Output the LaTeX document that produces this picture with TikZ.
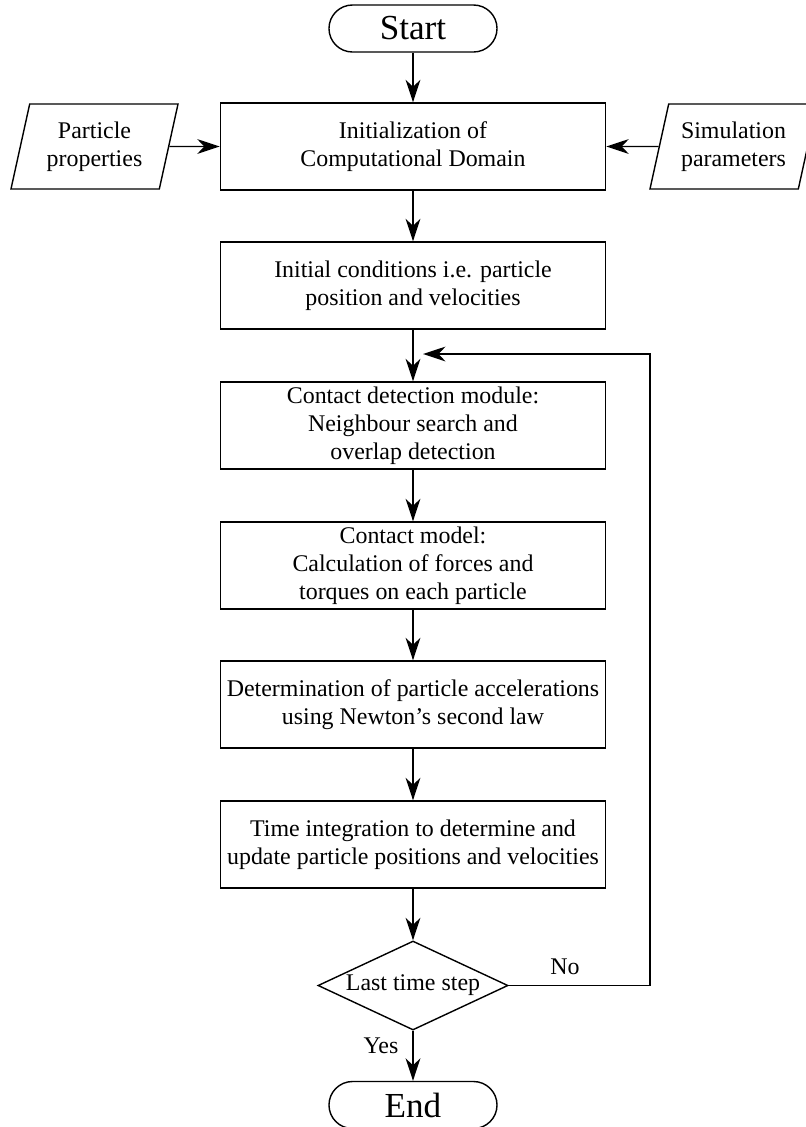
\documentclass[tikz,border=0pt]{standalone}
\usepackage{fontspec}
\setmainfont{Liberation Serif}
\usetikzlibrary{shapes.geometric,arrows.meta}

\begin{document}
\begin{tikzpicture}[x=0.025cm, y=-0.025cm, line width=1pt,
  >={Stealth[length=16pt,width=10.5pt,inset=5pt]},
  every node/.style={font=\fontsize{17}{20}\selectfont, align=center},
  process/.style={rectangle, draw, minimum width=9.625cm, minimum height=2.175cm, inner sep=0pt},
  terminal/.style={rectangle, draw, rounded corners=0.5875cm, minimum width=4.2cm, minimum height=1.175cm, inner sep=0pt, font=\fontsize{25}{28}\selectfont},
  io/.style={trapezium, trapezium left angle=69.4, trapezium right angle=110.6, trapezium stretches body, draw, minimum width=4.175cm, minimum height=2.125cm, inner sep=0pt},
  decision/.style={diamond, aspect=2.13, draw, minimum width=4.75cm, minimum height=2.225cm, inner sep=0pt},
  tag/.style={inner sep=0pt}]
  \useasboundingbox (0,0) rectangle (805,1127);
  \node[terminal] (start) at (413, 28.5) {Start};
  \node[process] (init) at (413, 146.5) {Initialization of\\Computational Domain};
  \node[io] (props) at (94.5, 146.5) {Particle\\properties};
  \node[io] (params) at (733.5, 146.5) {Simulation\\parameters};
  \node[process] (ic) at (413, 285.5) {Initial conditions i.e. particle\\position and velocities};
  \node[process] (detect) at (413, 425.5) {Contact detection module:\\Neighbour search and\\overlap detection};
  \node[process] (model) at (413, 565.5) {Contact model:\\Calculation of forces and\\torques on each particle};
  \node[process] (accel) at (413, 704.5) {Determination of particle accelerations\\using Newton's second law};
  \node[process] (integ) at (413, 844.5) {Time integration to determine and\\update particle positions and velocities};
  \node[decision] (last) at (413, 985.5) {Last time step};
  \node[terminal] (end) at (413, 1105) {End};
  \node[tag] (no) at (565, 967) {No};
  \node[tag] (yes) at (381, 1046) {Yes};
  \coordinate (loopdn) at (650, 985.5);
  \coordinate (loopup) at (650, 354);
  \coordinate (loopin) at (423, 354);
  \draw[->] (start) -- (init);
  \draw[->] (props) -- (init);
  \draw[->] (params) -- (init);
  \draw[->] (init) -- (ic);
  \draw[->] (ic) -- (detect);
  \draw[->] (detect) -- (model);
  \draw[->] (model) -- (accel);
  \draw[->] (accel) -- (integ);
  \draw[->] (integ) -- (last);
  \draw[->] (last) -- (end);
  \draw[->] (last.east) -- (loopdn) -- (loopup) -- (loopin);
\end{tikzpicture}
\end{document}
